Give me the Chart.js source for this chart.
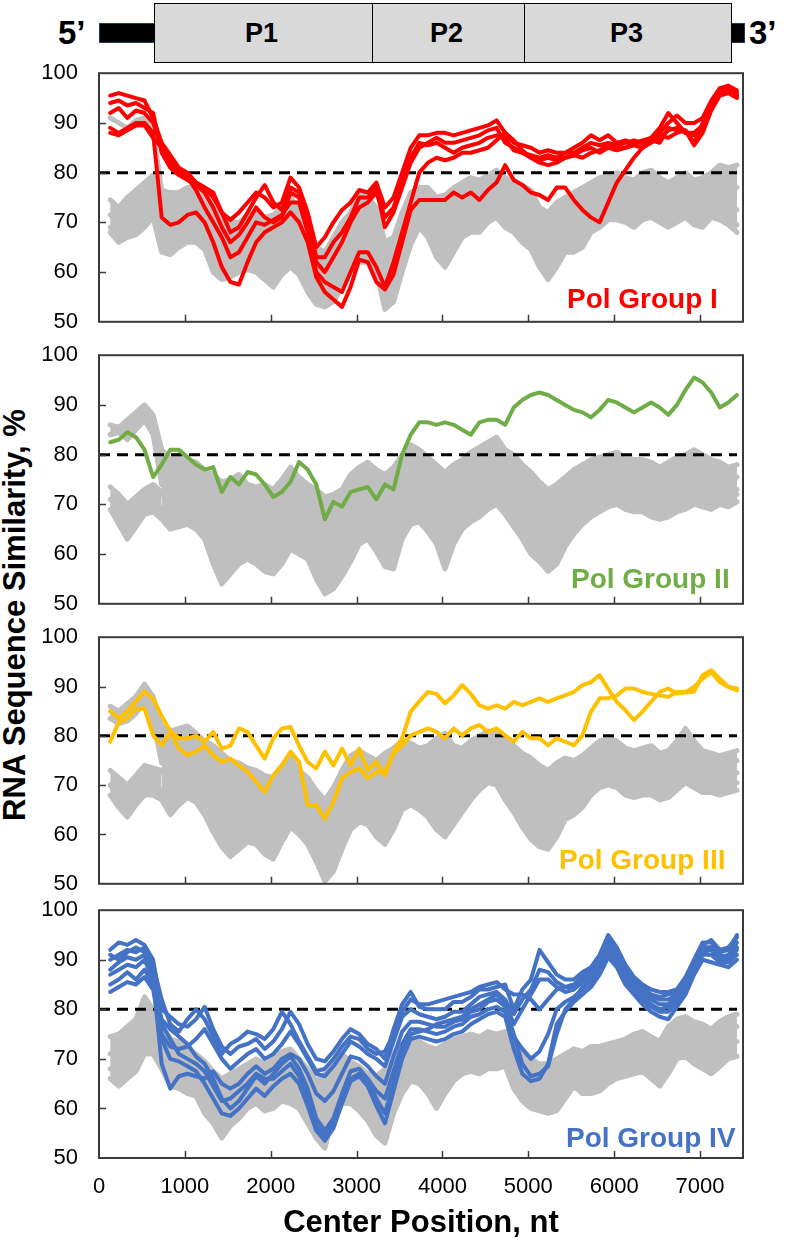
<!DOCTYPE html>
<html>
<head>
<meta charset="utf-8">
<script src="https://cdn.jsdelivr.net/npm/chart.js@4.4.1/dist/chart.umd.min.js"></script>
<style>
body { margin: 0; background: #fff; width: 786px; height: 1242px; overflow: hidden; position: relative;
       font-family: "Liberation Sans", Arial, sans-serif; }
canvas { position: absolute; left: 0; }
.bar { position: absolute; background: #000; border: 1.5px solid #1f3864; box-sizing: border-box; }
.gene { position: absolute; top: 3px; height: 60px; background: #d9d9d9; border: 1.5px solid #000; box-sizing: border-box; }
.gtxt { position: absolute; font-weight: bold; color: #000; line-height: 1; }
#ytitle { position: absolute; left: -285px; top: 597px; width: 600px; text-align: center; font-weight: bold;
          font-size: 31px; line-height: 36px; transform: rotate(-90deg); }
</style>
</head>
<body>
<div class="bar" style="left:99px; top:23px; width:57px; height:20px;"></div>
<div class="bar" style="left:729px; top:23px; width:16px; height:20px;"></div>
<div class="gene" style="left:154px; width:220px;"></div>
<div class="gene" style="left:372px; width:154px;"></div>
<div class="gene" style="left:524px; width:208px;"></div>
<div class="gtxt" style="left:58px; top:16px; font-size:33px;">5’</div>
<div class="gtxt" style="left:749px; top:16px; font-size:33px;">3’</div>
<div class="gtxt" style="left:245px; top:20px; font-size:27px;">P1</div>
<div class="gtxt" style="left:430px; top:20px; font-size:27px;">P2</div>
<div class="gtxt" style="left:610px; top:20px; font-size:27px;">P3</div>
<div id="ytitle">RNA Sequence Similarity, %</div>

<canvas id="c1" width="786" height="290"></canvas>
<canvas id="c2" width="786" height="290"></canvas>
<canvas id="c3" width="786" height="290"></canvas>
<canvas id="c4" width="786" height="360"></canvas>

<script>
// window centre positions (nt)
var centers = [130, 230, 330, 430, 530, 630, 730, 830, 930, 1030,
    1130, 1230, 1330, 1430, 1530, 1630, 1730, 1830, 1930, 2030,
    2130, 2230, 2330, 2430, 2530, 2630, 2730, 2830, 2930, 3030,
    3130, 3230, 3330, 3430, 3530, 3630, 3730, 3830, 3930, 4030,
    4130, 4230, 4330, 4430, 4530, 4630, 4730, 4830, 4930, 5030,
    5130, 5230, 5330, 5430, 5530, 5630, 5730, 5830, 5930, 6030,
    6130, 6230, 6330, 6430, 6530, 6630, 6730, 6830, 6930, 7030,
    7130, 7230, 7330, 7430];

var xTicks = [0, 1000, 2000, 3000, 4000, 5000, 6000, 7000];
var yTicks = [50, 60, 70, 80, 90, 100];
var cutoff = 80;

// Pol Group I
var redI = [
    [95.5, 96, 95.5, 95, 94.5, 91, 86, 83.5, 81, 80,
     78, 77, 75, 72, 70.5, 72, 74, 76, 75, 73,
     74, 79, 77, 72, 65, 67, 70, 72.5, 74, 76.5,
     76, 78, 73, 75, 80, 85, 87.5, 87.5, 88, 88,
     87.5, 88, 88.5, 89, 89.5, 90.5, 88, 86, 85.5, 85,
     84, 84.5, 84, 84, 85, 86, 87.5, 86.5, 87.5, 86,
     86.5, 86, 86.5, 87, 88, 90, 91.5, 90, 90, 91,
     94.5, 97, 97.5, 96.5],
    [94, 94.5, 93.5, 94, 93, 92, 84, 81, 79.5, 78.5,
     77.5, 76, 73, 69, 66, 67.5, 70, 73, 71, 70,
     71, 76, 75, 70, 62, 60, 63, 66, 70, 73,
     74, 76, 71, 73, 78, 83, 86, 85.5, 86, 85,
     84, 85, 85.5, 86, 87, 87.5, 87, 84.5, 84, 83,
     82.5, 83, 82.5, 83, 83.5, 84.5, 85, 84, 85, 84.5,
     85, 85.5, 85, 86, 87, 88.5, 89, 88, 87.5, 89,
     93, 96.5, 96.5, 95.5],
    [89, 88, 89, 90, 90, 88, 71, 69.5, 70, 71.5,
     72, 70, 66, 61, 58, 57.5, 62, 66, 68, 69,
     70, 72, 70, 66, 59, 56, 54.5, 53, 57, 62.5,
     62, 58, 56.5, 59.5, 66, 72.5, 74.5, 74.5, 74.5, 74.5,
     76, 75, 76, 74.5, 76.5, 78, 81.5, 78.5, 77.5, 76,
     75.5, 74.5, 77, 77, 74.5, 72.5, 71, 70, 74, 78,
     80.5, 83, 85, 86.5, 86, 89, 88.5, 88.5, 86, 90,
     94, 96, 97, 95.5],
    [88, 87.5, 88.5, 89.5, 89.5, 87, 85, 82, 80, 79,
     76.5, 73, 70, 67, 63, 64, 67, 70, 69.5, 70.5,
     71.5, 74, 74, 68, 60, 58, 57, 56, 60, 64,
     64, 61, 57, 62, 68, 74, 80, 82, 83, 82.5,
     83, 84, 84, 84.5, 85, 86.5, 88, 86.5, 84.5, 83,
     82, 81.5, 82, 83, 83.5, 83, 84, 84.5, 85.5, 85,
     85, 86, 86, 86.5, 87.5, 87, 88, 88.5, 85.5, 88,
     92.5, 95.5, 96, 95],
    [92, 93, 91, 92.5, 92, 90, 85, 82.5, 80, 79.5,
     78, 77, 76, 72, 68, 69, 72, 75, 77.5, 74,
     72.5, 77, 76, 71, 63, 63, 66, 68, 71, 75,
     75, 77, 69, 72, 77, 82, 85, 86, 87, 86,
     86, 86.5, 87, 87.5, 88.5, 89, 86, 85, 84, 83.5,
     83, 83.5, 83, 84, 84, 85, 86, 85.5, 86, 85.5,
     86, 86.5, 86, 87, 89, 92, 90, 88, 88, 89.5,
     93.5, 96, 97, 96]
];
var grayI = [
    [91, 90, 89, 90.5, 91, 88, 76.5, 76, 76, 77,
     77, 76, 73, 71, 70, 70, 71.5, 72, 71, 71.5,
     73, 75, 72.5, 70, 65, 64, 67, 70, 72, 76,
     75, 73, 66, 67, 72, 76, 77, 77, 75, 75.5,
     77, 78, 79, 78.5, 79.5, 80.5, 79, 78, 77.5, 76.5,
     73, 72, 74, 75, 76, 77, 78, 79, 79.5, 80,
     79, 78.5, 80, 80.5, 79, 78, 79, 80, 78.5, 79,
     80, 81.5, 81, 81.5],
    [74.5, 73, 75, 76.5, 78, 79.5, 74, 72, 73, 74,
     74.5, 73, 70, 67, 66, 67, 68, 70, 69, 68,
     70, 72, 69, 66, 61, 60, 62, 65, 68, 70,
     71, 69, 62, 63, 68, 72, 74, 73.5, 72, 70,
     73, 74, 75, 74.5, 77, 79, 76, 74.5, 74, 73,
     70, 67, 70, 72, 72.5, 73, 75.5, 76, 77, 78,
     76.5, 76, 77.5, 78, 76, 75.5, 76.5, 77.5, 76, 76,
     77.5, 79, 78, 77],
    [71.5, 70, 71, 72, 73.5, 75, 70, 68, 69.5, 71,
     71, 69, 66, 63, 63.5, 64, 65.5, 66, 65, 64,
     66, 68, 65.5, 62, 58, 56.5, 59, 62, 65, 67.5,
     68, 66, 58.5, 60, 65, 70, 72, 71, 69, 66,
     70, 71.5, 72, 72, 74, 75, 73, 72, 71, 70,
     66, 63, 66.5, 69, 69, 70, 72.5, 73, 74.5, 75,
     74, 73, 74.5, 75.5, 73.5, 73, 74, 75, 73.5, 73,
     75, 76, 74, 72.5],
    [69, 68, 68.5, 70, 71, 73, 66, 64, 67, 68.5,
     68, 66, 62, 60, 60.5, 61, 62, 62, 61, 60,
     62, 64, 62, 58.5, 55, 54, 56, 59, 62, 64.5,
     65, 63, 55, 56.5, 62, 67.5, 70, 68.5, 66, 63,
     67, 69, 70, 70, 71.5, 72, 70.5, 69.5, 68.5, 67,
     63, 60, 63.5, 66, 66, 67, 70, 70.5, 72, 72.5,
     72, 71, 72, 73, 71, 70.5, 71.5, 72.5, 71, 70.5,
     72.5, 73, 71, 69.5],
    [68, 66, 67, 67.5, 69, 71, 64, 63.5, 65, 66,
     66, 64.5, 60, 58.5, 59, 60, 60.5, 60, 58.5, 57,
     59.5, 61, 59.5, 56, 53.5, 53, 54, 57, 60, 62,
     62, 60, 52.5, 54, 60, 65.5, 69, 67, 63, 61,
     64, 67, 68, 68, 70, 71, 69, 68, 66, 64.5,
     61, 58.5, 61, 64, 64, 65, 68, 69, 70.5, 70.5,
     70, 69, 70.5, 71, 70, 69, 70, 71, 69.5, 69,
     71, 70.5, 69.5, 68]
];

// Pol Group II
var greenII = [
    [82.5, 83, 84.5, 83.5, 81, 75.5, 78, 81, 81, 79.5,
     78, 77, 77.5, 72.5, 75.5, 74, 76.5, 76, 74, 71.5,
     72.5, 74.5, 78.5, 77, 74, 67, 70.5, 69.5, 72.5, 73,
     73.5, 71, 74, 73, 80, 84, 86.5, 86.5, 86, 86.5,
     86, 85, 84, 86.5, 87, 87, 86, 89.5, 91, 92,
     92.5, 92, 91, 90, 89, 88.5, 87.5, 89, 91, 90.5,
     89.5, 88.5, 89.5, 90.5, 89.5, 88, 90, 93, 95.5, 94.5,
     92.5, 89.5, 90.5, 92]
];
var grayII = [
    [86, 85.5, 87, 88.5, 90, 88, 81, 79, 80, 79,
     78.5, 77, 76, 74.5, 75, 76, 74, 73.5, 74, 73,
     75, 77.5, 75.5, 74, 73, 71.5, 72, 73, 76, 77.5,
     78.5, 77, 76, 77.5, 80, 82, 81, 79.5, 78, 76.5,
     78, 79, 80.5, 81.5, 82.5, 83.5, 81, 80, 78, 76.5,
     74.5, 73, 74, 75.5, 77, 78, 79, 79.5, 80, 80.5,
     79.5, 79, 79, 78.5, 77.5, 78.5, 79.5, 80, 81, 80,
     79, 78.5, 77.5, 78],
    [84, 84.5, 83, 85, 87, 84, 74, 73, 74, 75,
     74.5, 73, 70, 68, 70, 71, 70, 69, 68, 69,
     71, 73, 71, 70, 69, 67.5, 68, 69, 72, 74,
     74, 72, 70, 71, 75.5, 78, 77, 75.5, 74, 72.5,
     74, 75.5, 77, 77.5, 78.5, 80, 77.5, 76, 73.5, 71.5,
     70, 68.5, 70, 72, 73.5, 75, 76, 76.5, 77, 77.5,
     76.5, 76, 76, 75.5, 74.5, 75.5, 76.5, 77, 78, 77,
     76, 75.5, 74.5, 75.5],
    [73.5, 72, 70, 71.5, 73, 74, 72.5, 69, 70, 71.5,
     71, 69, 66, 63, 64.5, 66, 66, 65, 63.5, 64,
     66.5, 69, 67, 66, 64, 62, 62.5, 64, 67, 70,
     71, 68.5, 65.5, 66, 71, 75, 74, 72, 70, 67,
     70, 72, 73.5, 74, 75.5, 76.5, 74, 72, 69, 66.5,
     65, 64, 66, 68.5, 70, 71.5, 73, 73.5, 74.5, 75,
     74, 73.5, 73.5, 72.5, 72, 72.5, 73.5, 74, 75, 74,
     73.5, 73, 72, 73],
    [71, 69.5, 66, 68.5, 70.5, 71, 69, 66.5, 67.5, 68,
     67.5, 65.5, 61, 58, 60, 61.5, 62, 61, 59.5, 60,
     62, 65, 63.5, 62, 60, 57.5, 58, 60, 63, 66,
     67, 64.5, 61, 61.5, 67, 71, 70.5, 68, 66, 62,
     66, 68.5, 70, 70.5, 72, 73, 71, 68.5, 66, 63,
     61.5, 60.5, 62, 65, 67, 68.5, 70, 71, 72, 72.5,
     71.5, 71, 71, 70, 69.5, 70, 71, 71.5, 72.5, 71.5,
     71, 71.5, 70.5, 72],
    [69, 66, 63, 65.5, 68, 68.5, 67, 65, 65.5, 66,
     65, 63, 58, 54, 56, 58, 59, 58, 56.5, 56,
     58, 61, 60, 59, 55, 52, 53, 55.5, 58.5, 62,
     63, 60.5, 57.5, 57, 63, 66, 66.5, 64.5, 62, 57,
     62, 65, 66.5, 67.5, 69, 70, 68, 65.5, 63, 60,
     58.5, 56.5, 58, 61.5, 64, 66, 67.5, 68.5, 69.5, 70,
     69, 68.5, 68.5, 67.5, 67, 67.5, 68.5, 69, 70, 69.5,
     69, 70, 69.5, 70.5]
];

// Pol Group III
var yellowIII = [
    [85, 83.5, 85, 87, 89, 87.5, 84, 81, 79.5, 79.5,
     80, 78.8, 80.8, 77.4, 78, 81.5, 80.8, 78, 75.4, 79.5,
     81.5, 81.8, 78, 74.7, 73.4, 76.8, 74, 77.4, 74, 77.4,
     73, 74.7, 72, 76.8, 79.5, 84.9, 87, 88.9, 88.5, 86.6,
     88.2, 90.3, 88.5, 86.2, 85.5, 86.2, 85.5, 86.9, 86.2, 86.9,
     87.6, 86.9, 87.6, 88.2, 88.9, 90.3, 90.9, 92.3, 89.5, 86.9,
     85.2, 83.2, 84.9, 86.9, 88.9, 89.6, 88.6, 88.8, 89, 92.3,
     93.3, 91.6, 89.9, 89.6],
    [78.8, 82.8, 83.5, 85.5, 85.5, 80.1, 78.1, 80.8, 77.4, 76.1,
     76.8, 78, 76.1, 74.7, 75.4, 74, 72.7, 70.7, 68.6, 72,
     74, 76.8, 74.7, 66, 66, 63.2, 66.6, 71.4, 72.7, 73.4,
     71.4, 72.7, 72.7, 76.4, 78.1, 80.1, 80.8, 81.5, 80.8, 79.5,
     81.5, 80.1, 81.5, 82.2, 80.8, 81.5, 80.1, 78.8, 80.8, 79.5,
     79.5, 78.1, 79.5, 78.8, 78.1, 80.1, 84.9, 87.6, 87.6, 88.2,
     89.6, 89.6, 88.9, 88.5, 88.2, 87.9, 88.9, 88.9, 89.9, 91.6,
     92.9, 90.9, 89.9, 89.2]
];
var grayIII = [
    [86, 85, 86.5, 88, 90.5, 88, 82, 81, 81.5, 82,
     80.5, 79, 78, 76.5, 75, 74.5, 73.5, 73, 72, 71.5,
     74, 75.5, 73, 71.5, 69, 67, 69.5, 73, 76, 77,
     76, 75, 76.5, 77.5, 79, 78.5, 77.5, 78, 79.5, 80.5,
     78, 77.5, 79, 80, 81, 80.5, 79, 78, 76.5, 75.5,
     74, 73, 74.5, 75.5, 75, 76, 77.5, 79, 79.5, 79,
     77.5, 77, 77.5, 78, 76.5, 77, 79, 81.5, 79, 77,
     76.5, 76, 76.5, 77],
    [83.5, 82.5, 83, 84.5, 87, 83, 74.5, 77, 78.5, 79,
     77.5, 75.5, 74, 72, 70, 70.5, 70, 69.5, 68.5, 68,
     70.5, 72.5, 70, 68, 65.5, 63, 65.5, 69.5, 72.5, 73.5,
     72.5, 71, 72, 73.5, 75.5, 75, 74, 74.5, 76, 76.5,
     74.5, 74.5, 76, 77.5, 78.5, 78, 76, 75, 73, 71.5,
     70.5, 69.5, 71, 72.5, 72, 73, 75, 76.5, 77, 76.5,
     75, 74.5, 75, 75.5, 74, 74.5, 76.5, 78.5, 76.5, 74.5,
     74, 74, 74.5, 75],
    [73, 71.5, 70, 72, 74, 73.5, 73, 70.5, 72, 73,
     72, 70, 68, 66, 64.5, 65, 65.5, 65, 64, 63.5,
     66, 68.5, 66.5, 64.5, 61.5, 58, 60.5, 65, 68.5, 69.5,
     68.5, 67, 67.5, 69.5, 72, 72, 71, 71, 72.5, 70.5,
     70.5, 71, 73, 74.5, 75.5, 75, 73, 71.5, 69.5, 67.5,
     66.5, 65.5, 67.5, 69.5, 69, 70, 72.5, 74, 74.5, 74,
     72.5, 72, 72.5, 73, 71.5, 72, 73.5, 75, 74, 72,
     72, 71.5, 72, 72.5],
    [70, 68, 65.5, 68, 70.5, 70, 69, 66.5, 68, 69.5,
     68.5, 66.5, 63.5, 60.5, 58, 59.5, 61, 60.5, 59, 58,
     61, 64, 62.5, 60.5, 57, 53.5, 55.5, 60, 64, 65.5,
     64.5, 62.5, 62, 64.5, 68, 68.5, 67.5, 67, 66, 63,
     65, 67, 69.5, 71.5, 72.5, 72, 69.5, 67.5, 65, 62.5,
     61, 59.5, 62, 65, 65.5, 67, 70, 71.5, 72, 71.5,
     70, 69.5, 70, 70.5, 69, 69.5, 71, 72.5, 71.5, 70,
     70, 69.5, 70, 70.5],
    [68, 65.5, 63.5, 66, 68, 68, 67, 64, 66, 67.5,
     66.5, 64, 60.5, 57.5, 55.5, 57, 58.5, 58, 56, 55,
     58.5, 61.5, 60, 58, 54.5, 50.5, 52.5, 57, 61, 62.5,
     62, 59.5, 58, 61, 65, 66, 65, 63.5, 61, 59.5,
     62, 64.5, 67, 69, 70.5, 70, 67, 64.5, 61.5, 59,
     57.5, 57, 59.5, 63, 64, 65.5, 68, 69.5, 70, 69.5,
     68, 67.5, 68, 68, 67, 67.5, 69, 70.5, 69.5, 68.5,
     68.5, 68, 68.5, 69]
];

// Pol Group IV
var blueIV = [
    [92, 93.5, 93, 94, 93, 90, 80, 78.5, 77, 76.5,
     78, 80.5, 76, 72.5, 71, 72.5, 73, 74, 72, 73.5,
     76, 79.5, 77, 73, 70, 69.5, 71.5, 74, 76, 75,
     73, 72, 70, 76, 81, 83.5, 80.5, 80, 80, 80,
     81.5, 81.5, 82.5, 84, 84, 84.5, 85, 80, 84, 86,
     92, 89.5, 87, 86, 86, 87.5, 88.5, 91, 95, 92.5,
     89, 86.5, 85, 84, 83.5, 83.5, 84, 86.5, 90, 93.5,
     93.5, 91.5, 92, 95],
    [90, 91, 92, 91.5, 92.5, 88, 75, 72.5, 72, 72.5,
     74, 76, 73, 70, 68, 69.5, 71, 72, 70, 71,
     73, 75.5, 73, 70, 67, 66.5, 68.5, 71, 73.5, 72.5,
     71, 70, 68.5, 73.5, 78.5, 80, 79, 78.5, 78, 78.5,
     79.5, 79.5, 81, 82.5, 83, 83.5, 82, 79, 82, 84,
     88, 87.5, 85.5, 84.5, 84.5, 86, 87.5, 89.5, 93.5, 91.5,
     88, 85.5, 84, 82.5, 82, 82, 83, 85.5, 89, 92.5,
     92.5, 90.5, 91, 93.5],
    [87, 88, 89, 88.5, 90, 86, 69, 64, 66.5, 67,
     66.5, 66, 67.5, 65, 64, 65, 67, 68.5, 67, 68,
     70, 71, 70, 67, 63, 61.5, 63.5, 67, 70.5, 70,
     68.5, 66.5, 65, 70.5, 75.5, 77.5, 77.5, 77, 76.5, 76.5,
     77.5, 78, 79.5, 80, 81.5, 82, 80.5, 75, 69, 66.5,
     67, 68.5, 75, 80, 82, 84.5, 86, 88.5, 92.5, 90,
     86.5, 84.5, 82.5, 81, 80, 80.5, 82, 84.5, 88, 91.5,
     92, 90, 90, 92],
    [85, 86, 87.5, 86, 88, 85, 78, 76, 74.5, 73,
     70.5, 69, 66, 62, 60, 61.5, 64, 66.5, 65, 67,
     69, 70.5, 68, 64, 58, 55.5, 58, 63, 67.5, 68,
     66, 63.5, 62, 67.5, 73, 76, 76, 75.5, 75, 75.5,
     76.5, 77, 78.5, 79, 80, 80.5, 79.5, 74.5, 72, 70,
     71.5, 75, 80, 81.5, 82.5, 84, 85.5, 88, 91.5, 89.5,
     86, 84, 82, 80.5, 79.5, 79.5, 81.5, 84, 87.5, 91,
     91, 89.5, 89.5, 91],
    [83.5, 84.5, 85.5, 85, 86.5, 84, 74, 70, 69.5, 68.5,
     67.5, 65, 62, 59, 58.5, 60, 62, 64, 62.5, 64.5,
     66, 67, 65, 60.5, 55.5, 53.5, 56, 61, 65.5, 66.5,
     64.5, 60.5, 57, 63.5, 70, 74, 74.5, 74, 73.5, 74,
     75, 75.5, 77, 78, 79, 79.5, 78.5, 72, 67, 65.5,
     66, 69, 77, 79.5, 81.5, 83, 84.5, 87, 90.5, 88.5,
     85, 83, 81, 79.5, 78.5, 78, 80.5, 83, 87, 90,
     89.5, 89, 88.5, 90],
    [91, 90, 91.5, 92.5, 91.5, 89, 82, 77, 75.5, 78,
     80, 78, 74.5, 71, 73, 74, 75.5, 75, 74, 76,
     79.5, 77, 73.5, 70.5, 67.5, 68, 70, 72.5, 74.5, 74,
     72, 71, 71.5, 75, 79.5, 82, 81, 81, 81.5, 82,
     82.5, 83, 83.5, 84.5, 85, 85.5, 84, 83, 83, 82,
     80, 82, 84, 84.5, 85, 86.5, 88, 90, 94, 92,
     88.5, 86, 84.5, 83, 82.5, 83, 83.5, 86, 89.5, 93,
     94, 92, 92.5, 94.5],
    [88, 89.5, 90.5, 90, 91, 87.5, 77, 74, 71, 70,
     69, 67.5, 64.5, 61.5, 62, 63.5, 65, 67, 66, 66,
     67.5, 69, 66.5, 62, 56.5, 54.5, 57, 62, 66, 67,
     65.5, 62, 59, 65, 71.5, 75, 75.5, 76, 77, 77.5,
     78, 78.5, 80, 81, 82, 83, 81.5, 77, 80, 83,
     86, 86, 84.5, 83.5, 84, 85.5, 87, 89, 93, 91,
     87, 85, 83, 82, 81, 81, 82.5, 85, 88.5, 92,
     92.5, 91, 90.5, 92.5]
];
var grayIV = [
    [74.5, 75, 76.5, 78, 82.5, 80, 77, 74, 73.5, 72,
     71, 69.5, 67.5, 66, 67, 68, 69, 70, 69, 70,
     71.5, 72, 70, 68, 65.5, 67, 69.5, 71, 69.5, 68.5,
     67, 66.5, 68, 71, 73, 74.5, 73.5, 72.5, 72, 73,
     74, 74.5, 75, 74.5, 75.5, 75, 75.5, 73, 72, 70,
     69, 69, 70, 71, 72, 71.5, 72.5, 72.5, 73, 73.5,
     74, 75, 75.5, 74.5, 73.5, 76.5, 78, 78.5, 77.5, 77,
     76, 77.5, 78.5, 79],
    [71, 72, 72, 74, 78, 77, 74, 71, 69.5, 69,
     68, 66, 64, 62.5, 63.5, 64.5, 66, 66.5, 65.5, 66.5,
     68, 67.5, 66.5, 64, 61, 62, 65, 67.5, 66.5, 65,
     63.5, 62.5, 63.5, 67.5, 70, 71.5, 70.5, 69, 67.5, 69.5,
     71.5, 72, 72.5, 72, 73, 72.5, 73.5, 70, 68.5, 66.5,
     65.5, 65.5, 66.5, 68, 69.5, 68.5, 69, 69.5, 70.5, 71,
     71.5, 72, 72.5, 71.5, 70.5, 73, 75, 75.5, 74.5, 74,
     73, 74.5, 75.5, 76.5],
    [68, 67.5, 68.5, 70, 74, 74, 71, 67, 66.5, 66,
     65, 62.5, 60.5, 58.5, 60, 61, 63, 63.5, 62.5, 63,
     64.5, 64, 63, 60, 56.5, 57.5, 61.5, 64, 63.5, 62,
     60, 58, 57, 63, 67, 68.5, 67.5, 66, 63.5, 66,
     68.5, 69.5, 70, 69.5, 70.5, 70, 71, 67, 65, 63,
     62.5, 62, 63, 65, 67, 65.5, 66, 66.5, 67.5, 68.5,
     69, 69.5, 70, 69, 68, 70, 72.5, 73, 71.5, 71,
     70, 71.5, 72.5, 73.5],
    [66, 64.5, 66, 67.5, 71, 71, 68, 64.5, 64, 63,
     62.5, 59, 57, 54, 56.5, 58, 60, 61, 59.5, 60,
     61.5, 61, 60, 57, 54, 52, 58.5, 61, 61, 59.5,
     57.5, 54.5, 53, 59, 63, 65.5, 65, 63, 60, 63,
     65.5, 67, 67.5, 67, 68, 68, 68.5, 64, 61.5, 60,
     59.5, 59, 59.5, 62, 64.5, 63, 63, 63.5, 65, 66,
     66.5, 67, 67.5, 66, 64.5, 67, 70, 70.5, 69, 68,
     67, 68.5, 70, 70.5]
];

var GRAY = '#bfbfbf';
var FONT = '"Liberation Sans", Arial, sans-serif';

function lineSet(values, color, width, order) {
    return {
        data: values.map(function(v, i) { return {x: centers[i], y: v}; }),
        borderColor: color,
        backgroundColor: color,
        borderWidth: width,
        pointRadius: 0,
        fill: false,
        tension: 0,
        order: order,
        borderJoinStyle: 'round',
        borderCapStyle: 'round'
    };
}

function cutoffSet() {
    var ds = lineSet([cutoff, cutoff], '#000', 3, 1);
    ds.data = [{x: 0, y: cutoff}, {x: centers[centers.length - 1], y: cutoff}];
    ds.borderDash = [11, 7];
    ds.borderCapStyle = 'butt';
    return ds;
}

// frame, inside tick marks and the group label
var framePlugin = {
    id: 'frame',
    afterDatasetsDraw: function(chart, args, opts) {
        var ctx = chart.ctx, a = chart.chartArea;
        var x = chart.scales.x, y = chart.scales.y;
        ctx.save();
        ctx.strokeStyle = '#3a3a3a';
        ctx.lineWidth = 2;
        ctx.strokeRect(a.left, a.top, a.right - a.left, a.bottom - a.top);
        ctx.beginPath();
        xTicks.forEach(function(v) {
            if (v <= x.min) return;
            var px = Math.round(x.getPixelForValue(v)) + 0.5;
            ctx.moveTo(px, a.bottom);
            ctx.lineTo(px, a.bottom - 7);
        });
        yTicks.forEach(function(v) {
            if (v <= y.min || v >= y.max) return;
            var py = Math.round(y.getPixelForValue(v)) + 0.5;
            ctx.moveTo(a.left, py);
            ctx.lineTo(a.left + 7, py);
        });
        ctx.lineWidth = 1.5;
        ctx.stroke();
        ctx.fillStyle = opts.color;
        ctx.font = 'bold 28px ' + FONT;
        ctx.textAlign = 'left';
        ctx.textBaseline = 'alphabetic';
        ctx.fillText(opts.label, opts.labelX, a.bottom - opts.labelGap);
        ctx.restore();
    }
};

// gapIndex/gapUntil: the gray trace whose fill to the trace above stays open on the left
function makePanel(id, top, bottom, colored, gray, gapIndex, gapUntil, color, label, labelX, labelGap, last) {
    var sets = [];
    colored.forEach(function(v) { sets.push(lineSet(v, color, 4, 0)); });
    sets.push(cutoffSet());
    gray.forEach(function(v, i) {
        var ds = lineSet(v, GRAY, 5, 2);
        if (i > 0) {
            ds.fill = '-1';
            if (i === gapIndex) {
                ds.segment = {
                    backgroundColor: function(c) { return c.p0.parsed.x < gapUntil ? 'rgba(255,255,255,0)' : GRAY; }
                };
            }
        }
        sets.push(ds);
    });

    var canvas = document.getElementById(id);
    var chart = new Chart(canvas, {
        type: 'line',
        data: {datasets: sets},
        plugins: [framePlugin],
        options: {
            responsive: false,
            maintainAspectRatio: false,
            animation: false,
            devicePixelRatio: 1,
            events: [],
            layout: {padding: {top: 0, right: 43, left: 0, bottom: 0}},
            plugins: {
                legend: {display: false},
                tooltip: {enabled: false},
                filler: {drawTime: 'beforeDatasetsDraw'},
                frame: {color: color, label: label, labelX: labelX, labelGap: labelGap}
            },
            scales: {
                x: {
                    type: 'linear', min: 0, max: 7500,
                    afterBuildTicks: function(s) { s.ticks = xTicks.map(function(v) { return {value: v}; }); },
                    afterFit: function(s) { s.height = last ? 84 : 14; },
                    grid: {display: false, drawTicks: false},
                    border: {display: false},
                    ticks: {
                        display: last, padding: 16, color: '#000', maxRotation: 0, autoSkip: false,
                        font: {family: FONT, size: 22},
                        callback: function(v) { return String(v); }
                    },
                    title: {
                        display: last, text: 'Center Position, nt', color: '#000', padding: 0,
                        font: {family: FONT, size: 31, weight: 'bold'}
                    }
                },
                y: {
                    min: 50, max: 100,
                    afterBuildTicks: function(s) { s.ticks = yTicks.map(function(v) { return {value: v}; }); },
                    afterFit: function(s) { s.width = 99; },
                    grid: {display: false, drawTicks: false},
                    border: {display: false},
                    ticks: {padding: 21, color: '#000', font: {family: FONT, size: 22}}
                }
            }
        }
    });

    // size the canvas so the plot box lands on the wanted rows
    var a = chart.chartArea;
    var diff = Math.round((bottom - top) - (a.bottom - a.top));
    if (diff !== 0) {
        chart.resize(786, chart.height + diff);
        a = chart.chartArea;
    }
    canvas.style.top = Math.round(top - a.top) + 'px';
}

makePanel('c1', 73, 322, redI, grayI, 1, 730, '#ff0000', 'Pol Group I', 567, 14, false);
makePanel('c2', 355, 604, greenII, grayII, 2, 730, '#70ad47', 'Pol Group II', 571, 16, false);
makePanel('c3', 637, 884, yellowIII, grayIII, 2, 730, '#ffc000', 'Pol Group III', 559, 15, false);
makePanel('c4', 910, 1158, blueIV, grayIV, -1, 0, '#4472c4', 'Pol Group IV', 566, 11, true);
</script>
</body>
</html>
